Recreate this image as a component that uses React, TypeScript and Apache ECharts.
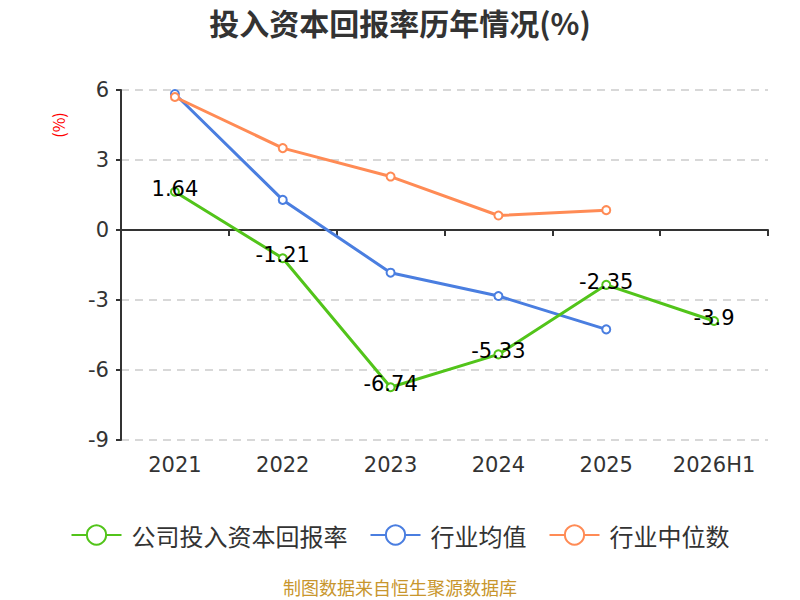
import React, { useEffect, useRef } from "react";
import * as echarts from "echarts";

const categories = ["2021", "2022", "2023", "2024", "2025", "2026H1"];
const companyValues = [1.64, -1.21, -6.74, -5.33, -2.35, -3.9];
const industryAvg = [5.83, 1.29, -1.83, -2.83, -4.26, null];
const industryMedian = [5.7, 3.51, 2.29, 0.62, 0.85, null];
const yTicks = { min: -9, max: 6, interval: 3 };

export default function App() {
  const ref = useRef<HTMLDivElement>(null);
  useEffect(() => {
    const chart = echarts.init(ref.current!, null, { renderer: "svg" });
    const font = "'Noto Sans CJK SC', 'Noto Sans', sans-serif";
    const numFont = "'DejaVu Sans', sans-serif";
    chart.setOption({
      animation: false,
      textStyle: { fontFamily: font },
      title: {
        text: "投入资本回报率历年情况(%)",
        left: "center",
        top: 2,
        textStyle: { fontSize: 30, fontWeight: "bold", color: "#333", fontFamily: font },
      },
      legend: {
        bottom: 48,
        left: "center",
        itemWidth: 50,
        itemHeight: 24,
        itemGap: 22,
        textStyle: { fontSize: 24, color: "#333", fontFamily: font, padding: [0, 0, 0, 5] },
        data: ["公司投入资本回报率", "行业均值", "行业中位数"],
      },
      graphic: [
        {
          type: "text",
          left: "center",
          top: 578,
          style: { text: "制图数据来自恒生聚源数据库", fill: "#c8962d", fontSize: 18, fontFamily: font },
        },
        {
          type: "text",
          x: 58,
          y: 125,
          rotation: Math.PI / 2,
          style: {
            text: "(%)",
            fill: "red",
            fontSize: 16,
            fontFamily: font,
            align: "center",
            verticalAlign: "middle",
          },
        },
      ],
      grid: { left: 121, right: 32, top: 90, bottom: 160 },
      xAxis: [
        {
          type: "category",
          data: categories,
          position: "bottom",
          axisLine: { show: false, onZero: false },
          axisTick: { show: false },
          axisLabel: { fontSize: 21, color: "#333", margin: 14, fontFamily: numFont },
        },
        {
          type: "category",
          data: categories,
          position: "bottom",
          axisLine: { show: true, onZero: true, lineStyle: { color: "#333", width: 2 } },
          axisTick: { show: true, length: 6, lineStyle: { color: "#333", width: 2 } },
          axisLabel: { show: false },
        },
      ],
      yAxis: {
        type: "value",
        min: yTicks.min,
        max: yTicks.max,
        interval: yTicks.interval,
        axisLine: { show: true, lineStyle: { color: "#333", width: 2 } },
        axisTick: { show: true, length: 5, lineStyle: { color: "#333", width: 2 } },
        axisLabel: { fontSize: 21, color: "#333", margin: 12, fontFamily: numFont },
        splitLine: { show: true, lineStyle: { type: [8, 6], color: "#ccc", width: 1.5 } },
      },
      series: [
        {
          name: "公司投入资本回报率",
          type: "line",
          data: companyValues,
          xAxisIndex: 0,
          symbol: "emptyCircle",
          symbolSize: 8,
          itemStyle: { color: "#52c41a" },
          lineStyle: { width: 3, color: "#52c41a" },
          label: {
            show: true,
            position: "inside",
            offset: [0, -3],
            fontSize: 21,
            color: "#000",
            fontFamily: numFont,
          },
          z: 3,
        },
        {
          name: "行业均值",
          type: "line",
          data: industryAvg,
          xAxisIndex: 0,
          symbol: "emptyCircle",
          symbolSize: 8,
          itemStyle: { color: "#4a7ee0" },
          lineStyle: { width: 3, color: "#4a7ee0" },
          z: 2,
        },
        {
          name: "行业中位数",
          type: "line",
          data: industryMedian,
          xAxisIndex: 0,
          symbol: "emptyCircle",
          symbolSize: 8,
          itemStyle: { color: "#ff8b55" },
          lineStyle: { width: 3, color: "#ff8b55" },
          z: 2,
        },
      ],
    });
    return () => chart.dispose();
  }, []);
  return (
    <div
      ref={ref}
      style={{ position: "absolute", left: 0, top: 0, width: 800, height: 600 }}
    />
  );
}
